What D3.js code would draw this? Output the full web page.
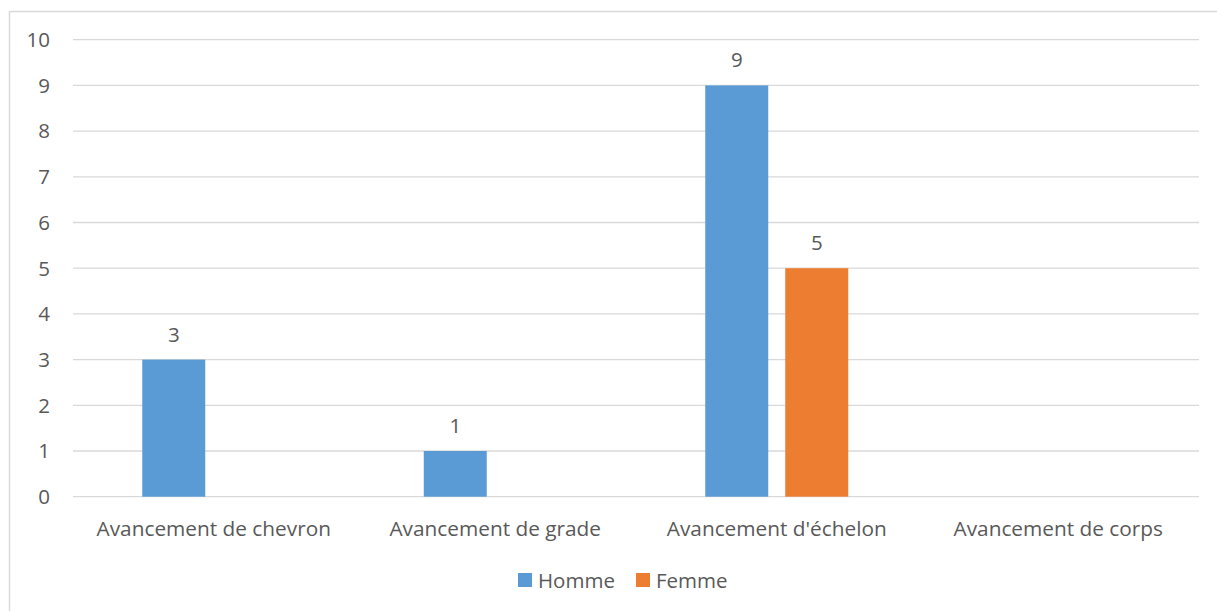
<!DOCTYPE html>
<html>
<head>
<meta charset="utf-8">
<script src="https://cdn.jsdelivr.net/npm/d3@7"></script>
<style>
  body { margin: 0; background: #fff; }
  .vis { width: 1217px; height: 611px; }
  text { font-family: "Open Sans", sans-serif; fill: #595959; }
</style>
</head>
<body>
<div class="vis"></div>
<script>
(function() {
  'use strict';

  var categories = ["Avancement de chevron", "Avancement de grade", "Avancement d'échelon", "Avancement de corps"];
  var series = ["Homme", "Femme"];
  var homme = [3, 1, 9, null];
  var femme = [null, null, 5, null];
  var yTicks = [0, 1, 2, 3, 4, 5, 6, 7, 8, 9, 10];
  var colors = ["#5b9bd5", "#ed7d31"];

  var el = d3.select('.vis'),
    elWidth = 1217,
    elHeight = 611,
    margin = {top: 39.7, right: 18, bottom: 114.3, left: 73},
    width = elWidth - margin.left - margin.right,
    height = elHeight - margin.top - margin.bottom;

  var root = el.append("svg")
      .attr("width", elWidth)
      .attr("height", elHeight);

  // chart border
  root.append("rect")
    .attr("x", 9.5).attr("y", 11.5)
    .attr("width", 1220).attr("height", 620)
    .attr("fill", "none")
    .attr("stroke", "#d9d9d9")
    .attr("stroke-width", 1.5);

  var svg = root.append("g")
    .attr("transform", "translate(" + margin.left + "," + margin.top + ")");

  var x0 = d3.scaleBand().domain(categories).range([0, width]).padding(0);
  var x1 = d3.scaleBand().domain(series).range([-71.5, 71.5]).paddingInner(0.2125).paddingOuter(0);
  var y = d3.scaleLinear().domain([0, 10]).range([height, 0]);

  // gridlines
  svg.selectAll('.grid')
    .data(yTicks)
    .enter().append('line')
      .attr('x1', 0).attr('x2', width)
      .attr('y1', function(d) { return y(d); })
      .attr('y2', function(d) { return y(d); })
      .attr('stroke', '#d9d9d9')
      .attr('stroke-width', 1.3);

  // y labels
  svg.selectAll('.ylab')
    .data(yTicks)
    .enter().append('text')
      .attr('x', -23)
      .attr('y', function(d) { return y(d); })
      .attr('dy', '0.36em')
      .attr('text-anchor', 'end')
      .attr('font-size', 20.5)
      .text(function(d) { return d; });

  // x labels
  svg.selectAll('.xlab')
    .data(categories)
    .enter().append('text')
      .attr('x', function(d) { return x0(d) + x0.bandwidth() / 2; })
      .attr('y', height + 39)
      .attr('text-anchor', 'middle')
      .attr('font-size', 20.8)
      .text(function(d) { return d; });

  var values = [homme, femme];
  var bars = [];
  series.forEach(function(s, si) {
    categories.forEach(function(c, ci) {
      if (values[si][ci] != null) bars.push({s: s, si: si, c: c, v: values[si][ci]});
    });
  });

  svg.selectAll('.bar')
    .data(bars)
    .enter().append('rect')
      .attr('x', function(d) { return x0(d.c) + x0.bandwidth() / 2 + x1(d.s); })
      .attr('width', x1.bandwidth())
      .attr('y', function(d) { return y(d.v); })
      .attr('height', function(d) { return height - y(d.v); })
      .attr('fill', function(d) { return colors[d.si]; });

  svg.selectAll('.dlab')
    .data(bars)
    .enter().append('text')
      .attr('x', function(d) { return x0(d.c) + x0.bandwidth() / 2 + x1(d.s) + x1.bandwidth() / 2; })
      .attr('y', function(d) { return y(d.v) - 18; })
      .attr('text-anchor', 'middle')
      .attr('font-size', 20.5)
      .text(function(d) { return d.v; });

  // legend
  var legendX = [518, 636];
  var legend = root.selectAll('.legend')
    .data(series)
    .enter().append('g')
      .attr('transform', function(d, i) { return "translate(" + legendX[i] + ",573)"; });

  legend.append('rect')
    .attr('width', 14).attr('height', 14)
    .attr('fill', function(d, i) { return colors[i]; });

  legend.append('text')
    .attr('x', 20)
    .attr('y', 14.5)
    .attr('font-size', 20.5)
    .text(function(d) { return d; });

}());
</script>
</body>
</html>
